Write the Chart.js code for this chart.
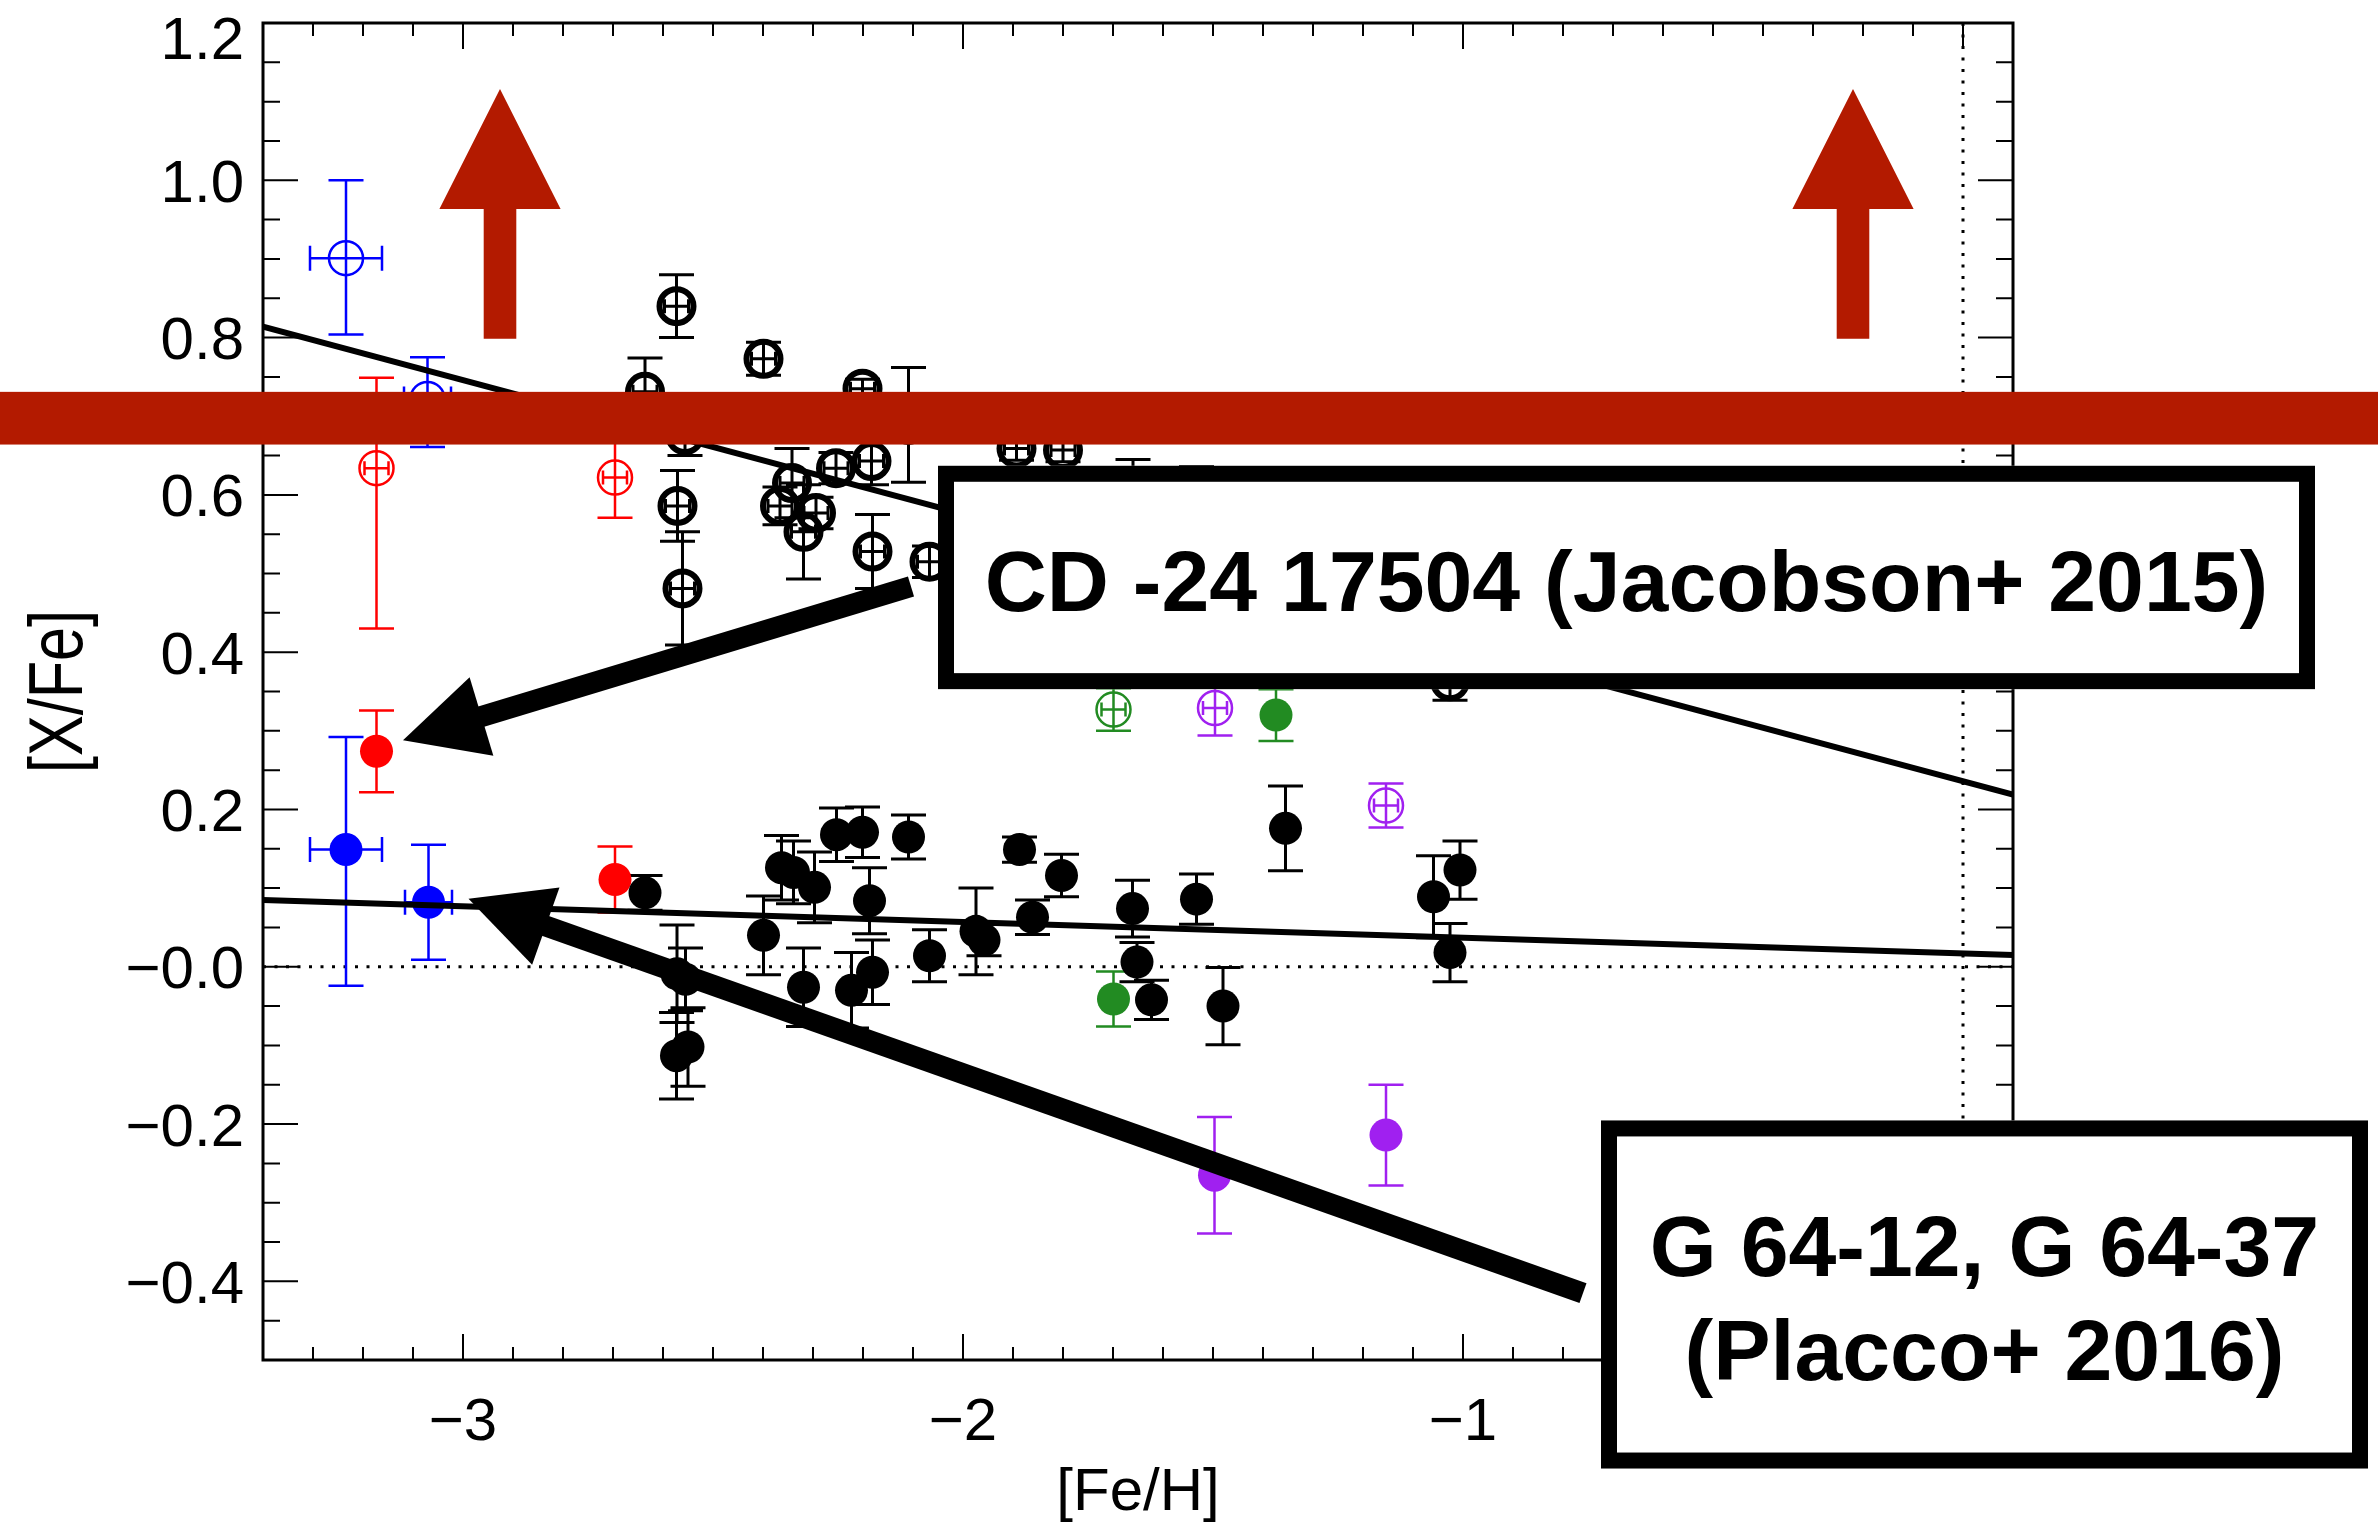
<!DOCTYPE html>
<html>
<head>
<meta charset="utf-8">
<script src="https://cdn.jsdelivr.net/npm/chart.js@4.4.1/dist/chart.umd.min.js"></script>
<style>
  html, body { margin: 0; padding: 0; background: #fff; }
  canvas { display: block; }
</style>
</head>
<body>
<canvas id="abundChart" width="2378" height="1522"></canvas>
<script>
// ---- measurements: [Fe/H], [X/Fe] and 1-sigma errors per sample ----
const blackOpenFeH = [-2.573, -2.399, -2.636, -2.201, -2.109, -2.556, -1.893, -1.800, -2.571, -2.561, -2.342,
  -2.366, -2.294, -2.319, -2.254, -2.183, -2.181, -2.067, -1.660, -1.533, -1.026];
const blackOpenXFe = [0.840, 0.773, 0.731, 0.735, 0.689, 0.676, 0.659, 0.657, 0.586, 0.481, 0.615,
  0.586, 0.577, 0.553, 0.634, 0.643, 0.528, 0.515, 0.600, 0.600, 0.363];
const blackOpenErr = [0.040, 0.021, 0.043, 0.012, 0.073, 0.026, 0.015, 0.015, 0.045, 0.072, 0.044,
  0.024, 0.020, 0.060, 0.020, 0.030, 0.047, 0.020, 0.045, 0.036, 0.024];

const blackFilledFeH = [-2.636, -2.363, -2.339, -2.297, -2.253, -2.201, -2.109, -2.399, -2.187, -2.573, -2.550,
  -2.572, -2.555, -2.319, -2.223, -2.181, -2.067, -1.974, -1.958, -1.887, -1.803, -1.861, -1.661, -1.533,
  -1.652, -1.623, -1.480, -1.355, -1.059, -1.006, -1.026];
const blackFilledXFe = [0.094, 0.126, 0.120, 0.101, 0.168, 0.171, 0.165, 0.040, 0.084, -0.113, -0.102,
  -0.009, -0.016, -0.026, -0.030, -0.007, 0.014, 0.045, 0.034, 0.149, 0.116, 0.063, 0.074, 0.086,
  0.006, -0.042, -0.050, 0.176, 0.089, 0.123, 0.018];
const blackFilledErr = [0.022, 0.041, 0.040, 0.045, 0.034, 0.032, 0.028, 0.050, 0.042, 0.055, 0.050,
  0.062, 0.040, 0.050, 0.048, 0.041, 0.033, 0.055, 0.020, 0.016, 0.027, 0.022, 0.036, 0.032,
  0.025, 0.025, 0.049, 0.054, 0.052, 0.037, 0.037];

const blueOpenFeH = [-3.234, -3.071];
const blueOpenXFe = [0.901, 0.722];
const blueOpenErrUp = [0.099, 0.053];
const blueOpenErrDown = [0.097, 0.061];
const blueOpenErrFeH = [0.072, 0.047];

const blueFilledFeH = [-3.234, -3.069];
const blueFilledXFe = [0.149, 0.082];
const blueFilledErrUp = [0.143, 0.073];
const blueFilledErrDown = [0.173, 0.073];
const blueFilledErrFeH = [0.072, 0.047];

const redOpenFeH = [-3.173, -2.696];
const redOpenXFe = [0.634, 0.622];
const redOpenErrUp = [0.115, 0.050];
const redOpenErrDown = [0.204, 0.051];

const redFilledFeH = [-3.173, -2.696];
const redFilledXFe = [0.274, 0.111];
const redFilledErr = [0.052, 0.042];

const greenOpenFeH = [-1.699];
const greenOpenXFe = [0.327];
const greenOpenErr = [0.027];

const greenFilledFeH = [-1.374, -1.699];
const greenFilledXFe = [0.320, -0.041];
const greenFilledErr = [0.033, 0.035];

const purpleOpenFeH = [-1.496, -1.154];
const purpleOpenXFe = [0.329, 0.205];
const purpleOpenErr = [0.035, 0.028];

const purpleFilledFeH = [-1.497, -1.154];
const purpleFilledXFe = [-0.265, -0.214];
const purpleFilledErr = [0.074, 0.064];

// small [Fe/H] error drawn inside the open symbols
const openErrFeH = 0.024;

// linear fits, evaluated at the plot edges
const fitFeH = [-3.4, 0.1];
const fitOpenXFe = [0.814, 0.219];
const fitFilledXFe = [0.085, 0.015];

// axes
const xTicks = [-3, -2, -1, 0];
const xTickLabels = ['\u22123', '\u22122', '\u22121', '0'];
const yTicks = [1.2, 1.0, 0.8, 0.6, 0.4, 0.2, 0.0, -0.2, -0.4];
const yTickLabels = ['1.2', '1.0', '0.8', '0.6', '0.4', '0.2', '\u22120.0', '\u22120.2', '\u22120.4'];

// annotations (anchored in data units)
const bandXFe = [0.664, 0.731];
const upArrowFeH = [-2.926, -0.22];
const upArrowXFe = { tip: 1.116, head: 0.9636, tail: 0.7986 };
const pointerArrows = [
  { from: [-2.104, 0.4835], to: [-3.12, 0.288] },
  { from: [-0.76, -0.415], to: [-2.989, 0.0865] }
];
const noteBoxes = [
  { feh: [-2.05, 0.704], xfe: [0.637, 0.353], lines: ['CD -24 17504 (Jacobson+ 2015)'], baselines: [145] },
  { feh: [-0.724, 0.81], xfe: [-0.1954, -0.638], lines: ['G 64-12, G 64-37', '(Placco+ 2016)'], baselines: [156, 260] }
];

const BLACK = '#000000';
const BLUE = '#0000ff';
const RED = '#ff0000';
const GREEN = '#228b22';
const PURPLE = '#a020f0';
const DARKRED = '#b31a00';
const FONT = '"Liberation Sans", Arial, Helvetica, sans-serif';

const groups = [
  { feh: blackOpenFeH, xfe: blackOpenXFe, up: blackOpenErr, down: blackOpenErr, color: BLACK, open: true },
  { feh: blackFilledFeH, xfe: blackFilledXFe, up: blackFilledErr, down: blackFilledErr, color: BLACK, open: false },
  { feh: blueOpenFeH, xfe: blueOpenXFe, up: blueOpenErrUp, down: blueOpenErrDown, ex: blueOpenErrFeH, color: BLUE, open: true },
  { feh: blueFilledFeH, xfe: blueFilledXFe, up: blueFilledErrUp, down: blueFilledErrDown, ex: blueFilledErrFeH, color: BLUE, open: false },
  { feh: redOpenFeH, xfe: redOpenXFe, up: redOpenErrUp, down: redOpenErrDown, color: RED, open: true },
  { feh: redFilledFeH, xfe: redFilledXFe, up: redFilledErr, down: redFilledErr, color: RED, open: false },
  { feh: greenOpenFeH, xfe: greenOpenXFe, up: greenOpenErr, down: greenOpenErr, color: GREEN, open: true },
  { feh: greenFilledFeH, xfe: greenFilledXFe, up: greenFilledErr, down: greenFilledErr, color: GREEN, open: false },
  { feh: purpleOpenFeH, xfe: purpleOpenXFe, up: purpleOpenErr, down: purpleOpenErr, color: PURPLE, open: true },
  { feh: purpleFilledFeH, xfe: purpleFilledXFe, up: purpleFilledErr, down: purpleFilledErr, color: PURPLE, open: false }
];

const datasets = [
  {
    type: 'line',
    data: fitFeH.map((f, i) => ({ x: f, y: fitOpenXFe[i] })),
    borderColor: BLACK, borderWidth: 6, pointRadius: 0, fill: false
  },
  {
    type: 'line',
    data: fitFeH.map((f, i) => ({ x: f, y: fitFilledXFe[i] })),
    borderColor: BLACK, borderWidth: 6, pointRadius: 0, fill: false
  }
];
groups.forEach((g) => {
  datasets.push({
    type: 'scatter',
    data: g.feh.map((f, i) => ({ x: f, y: g.xfe[i] })),
    pointStyle: 'circle',
    pointRadius: g.open ? 17 : 16.5,
    pointBorderWidth: g.open ? (g.color === BLACK ? 6 : 2.5) : 0,
    pointBorderColor: g.color,
    pointBackgroundColor: g.open ? 'rgba(0,0,0,0)' : g.color
  });
});

function hLine(ctx, x0, x1, y) { ctx.moveTo(x0, y); ctx.lineTo(x1, y); }
function vLine(ctx, x, y0, y1) { ctx.moveTo(x, y0); ctx.lineTo(x, y1); }

// zero lines and error bars, under the symbols
const underlay = {
  id: 'underlay',
  beforeDatasetsDraw(chart) {
    const { ctx, chartArea: a, scales: { x, y } } = chart;
    ctx.save();
    ctx.beginPath();
    ctx.rect(a.left, a.top, a.width, a.height);
    ctx.clip();

    ctx.strokeStyle = BLACK;
    ctx.lineWidth = 3;
    ctx.setLineDash([3, 8.5]);
    ctx.beginPath();
    hLine(ctx, a.left, a.right, y.getPixelForValue(0));
    vLine(ctx, x.getPixelForValue(0), a.top, a.bottom);
    ctx.stroke();
    ctx.setLineDash([]);

    groups.forEach((g) => {
      ctx.strokeStyle = g.color;
      ctx.lineWidth = g.color === BLACK ? 3 : 2.5;
      ctx.beginPath();
      g.feh.forEach((f, i) => {
        const px = x.getPixelForValue(f);
        const py = y.getPixelForValue(g.xfe[i]);
        const top = y.getPixelForValue(g.xfe[i] + g.up[i]);
        const bot = y.getPixelForValue(g.xfe[i] - g.down[i]);
        vLine(ctx, px, top, bot);
        hLine(ctx, px - 17.5, px + 17.5, top);
        hLine(ctx, px - 17.5, px + 17.5, bot);
        const ex = g.ex ? g.ex[i] : (g.open ? openErrFeH : 0);
        if (ex) {
          const l = x.getPixelForValue(f - ex);
          const r = x.getPixelForValue(f + ex);
          const ch = g.ex ? 12.5 : 7;
          hLine(ctx, l, r, py);
          vLine(ctx, l, py - ch, py + ch);
          vLine(ctx, r, py - ch, py + ch);
        }
      });
      ctx.stroke();
    });
    ctx.restore();
  }
};

// IDL-style frame: inward ticks on all four sides
const frame = {
  id: 'frame',
  afterDatasetsDraw(chart) {
    const { ctx, chartArea: a, scales: { x, y } } = chart;
    ctx.save();
    ctx.strokeStyle = BLACK;
    ctx.lineWidth = 2;
    ctx.beginPath();
    for (let k = -33; k <= 0; k++) {
      const px = x.getPixelForValue(k / 10);
      const len = k % 10 === 0 ? 26 : 13;
      vLine(ctx, px, a.bottom, a.bottom - len);
      vLine(ctx, px, a.top, a.top + len);
    }
    for (let k = -9; k <= 23; k++) {
      const py = y.getPixelForValue(k * 0.05);
      const len = k % 4 === 0 ? 35 : 17;
      hLine(ctx, a.left, a.left + len, py);
      hLine(ctx, a.right, a.right - len, py);
    }
    ctx.stroke();
    ctx.lineWidth = 3;
    ctx.strokeRect(a.left, a.top, a.width, a.height);

    ctx.fillStyle = BLACK;
    ctx.font = '60px ' + FONT;
    ctx.textBaseline = 'alphabetic';
    ctx.textAlign = 'right';
    yTicks.forEach((v, i) => {
      const py = Math.max(y.getPixelForValue(v), 37);
      ctx.fillText(yTickLabels[i], a.left - 19, py + 21.5);
    });
    ctx.textAlign = 'center';
    xTicks.forEach((v, i) => {
      ctx.fillText(xTickLabels[i], x.getPixelForValue(v), a.bottom + 80);
    });
    ctx.fillText('[Fe/H]', (a.left + a.right) / 2, 1510);

    ctx.save();
    ctx.translate(82, (a.top + a.bottom) / 2);
    ctx.rotate(-Math.PI / 2);
    ctx.scale(0.805, 1);
    ctx.font = '76px ' + FONT;
    ctx.fillText('[X/Fe]', 0, 0);
    ctx.restore();
    ctx.restore();
  }
};

// callouts drawn on top of everything
const callouts = {
  id: 'callouts',
  afterDraw(chart) {
    const { ctx, width, scales: { x, y } } = chart;
    ctx.save();

    // horizontal band
    ctx.fillStyle = DARKRED;
    const bTop = y.getPixelForValue(bandXFe[1]);
    const bBot = y.getPixelForValue(bandXFe[0]);
    ctx.fillRect(0, bTop, width, bBot - bTop);

    // upward arrows
    const tipY = y.getPixelForValue(upArrowXFe.tip);
    const headY = y.getPixelForValue(upArrowXFe.head);
    const tailY = y.getPixelForValue(upArrowXFe.tail);
    upArrowFeH.forEach((f) => {
      const cx = x.getPixelForValue(f);
      ctx.beginPath();
      ctx.moveTo(cx, tipY);
      ctx.lineTo(cx + 60.6, headY);
      ctx.lineTo(cx + 16.3, headY);
      ctx.lineTo(cx + 16.3, tailY);
      ctx.lineTo(cx - 16.3, tailY);
      ctx.lineTo(cx - 16.3, headY);
      ctx.lineTo(cx - 60.6, headY);
      ctx.closePath();
      ctx.fill();
    });

    // black pointer arrows
    ctx.fillStyle = BLACK;
    ctx.strokeStyle = BLACK;
    pointerArrows.forEach((p) => {
      const x0 = x.getPixelForValue(p.from[0]), y0 = y.getPixelForValue(p.from[1]);
      const x1 = x.getPixelForValue(p.to[0]), y1 = y.getPixelForValue(p.to[1]);
      const len = Math.hypot(x1 - x0, y1 - y0);
      const ux = (x1 - x0) / len, uy = (y1 - y0) / len;
      const bx = x1 - ux * 82, by = y1 - uy * 82;
      ctx.lineWidth = 21;
      ctx.lineCap = 'butt';
      ctx.beginPath();
      ctx.moveTo(x0, y0);
      ctx.lineTo(bx + ux * 2, by + uy * 2);
      ctx.stroke();
      ctx.beginPath();
      ctx.moveTo(x1, y1);
      ctx.lineTo(bx - uy * 41, by + ux * 41);
      ctx.lineTo(bx + uy * 41, by - ux * 41);
      ctx.closePath();
      ctx.fill();
    });

    // labelled boxes
    noteBoxes.forEach((b) => {
      const l = x.getPixelForValue(b.feh[0]), r = x.getPixelForValue(b.feh[1]);
      const t = y.getPixelForValue(b.xfe[0]), btm = y.getPixelForValue(b.xfe[1]);
      ctx.fillStyle = '#ffffff';
      ctx.fillRect(l, t, r - l, btm - t);
      ctx.lineWidth = 16;
      ctx.strokeStyle = BLACK;
      ctx.strokeRect(l + 8, t + 8, r - l - 16, btm - t - 16);
      ctx.fillStyle = BLACK;
      ctx.font = 'bold 86px ' + FONT;
      ctx.textAlign = 'center';
      ctx.textBaseline = 'alphabetic';
      b.lines.forEach((line, i) => ctx.fillText(line, (l + r) / 2, t + b.baselines[i]));
    });
    ctx.restore();
  }
};

new Chart(document.getElementById('abundChart'), {
  data: { datasets },
  options: {
    responsive: false,
    animation: false,
    devicePixelRatio: 1,
    layout: { padding: { left: 263, right: 365, top: 20, bottom: 162 } },
    scales: {
      x: { type: 'linear', min: -3.4, max: 0.1, display: false },
      y: { type: 'linear', min: -0.5, max: 1.2, display: false }
    },
    plugins: { legend: { display: false }, tooltip: { enabled: false } }
  },
  plugins: [underlay, frame, callouts]
});
</script>
</body>
</html>
